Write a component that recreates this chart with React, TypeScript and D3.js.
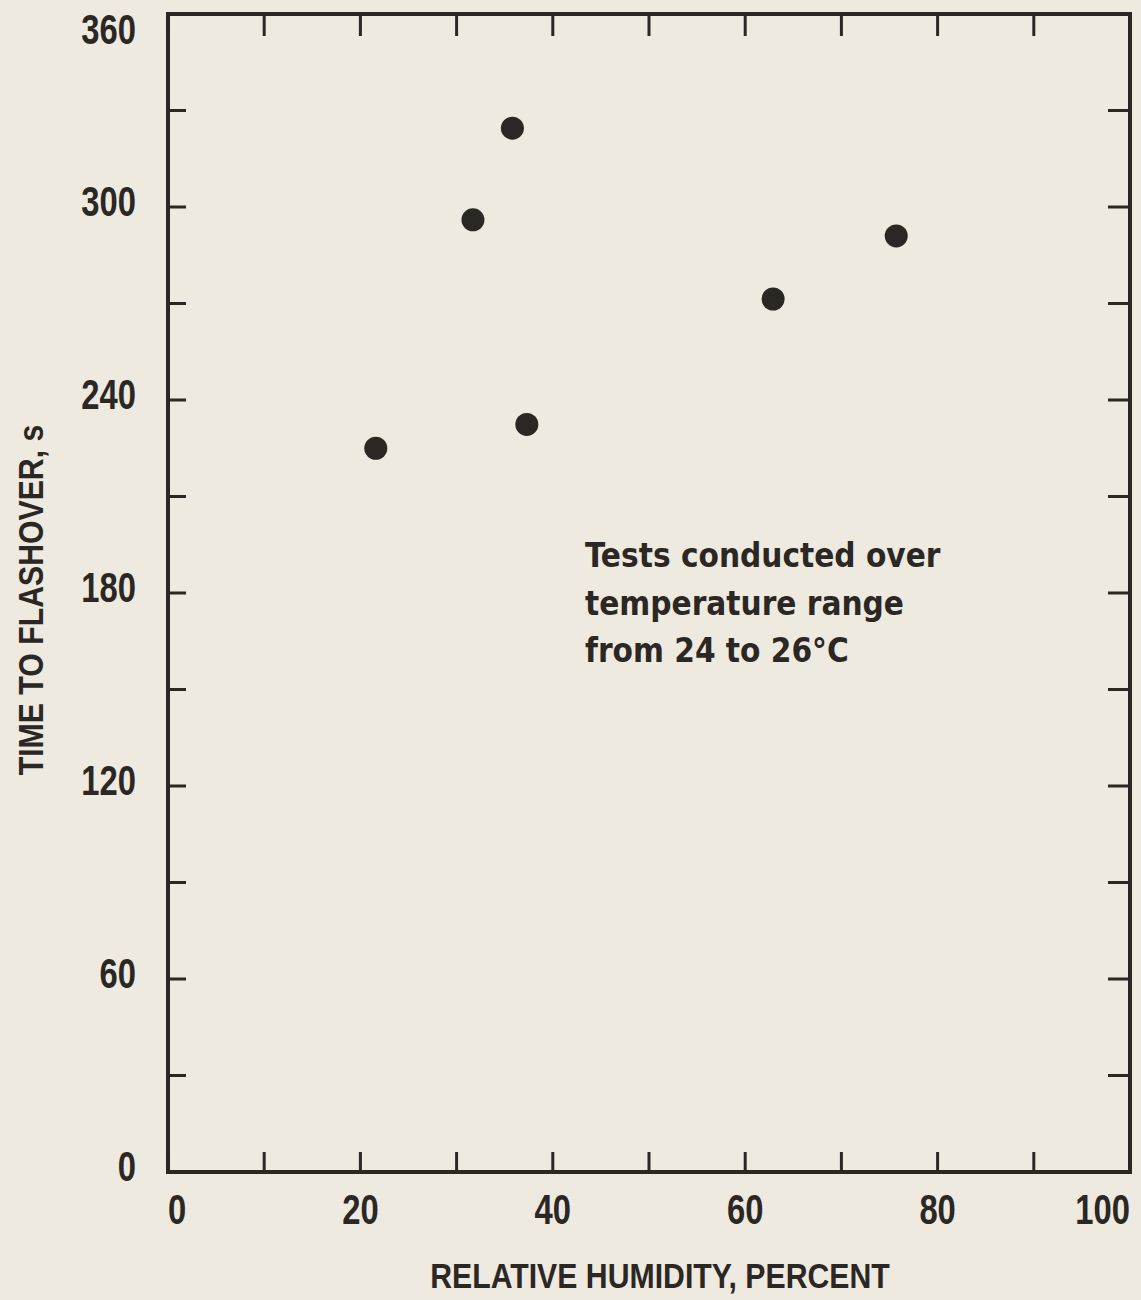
import React from "react";
import * as d3 from "d3";

const humidity = [21.6, 31.7, 35.8, 37.3, 62.9, 75.7];
const flashoverTime = [225, 296, 324.5, 232.4, 271.4, 291];
const xTickValues = [0, 10, 20, 30, 40, 50, 60, 70, 80, 90, 100];
const xLabelValues = [0, 20, 40, 60, 80, 100];
const yTickValues = [0, 30, 60, 90, 120, 150, 180, 210, 240, 270, 300, 330, 360];
const yLabelValues = [0, 60, 120, 180, 240, 300, 360];
const noteLines = ["Tests conducted over", "temperature range", "from 24 to 26°C"];
const xTitle = "RELATIVE HUMIDITY, PERCENT";
const yTitle = "TIME TO FLASHOVER, s";

const W = 1141;
const H = 1300;
const L = 168, R = 1130, T = 14, B = 1172;
const INK = "#2b2724";
const BG = "#eeeadf";
const SANS = "'Liberation Sans', Arial, sans-serif";
const COND = "'DejaVu Sans Condensed', 'DejaVu Sans', sans-serif";

export default function App() {
  const x = d3.scaleLinear().domain([0, 100]).range([L, R]);
  const y = d3.scaleLinear().domain([0, 360]).range([B, T]);
  const pts = humidity.map((h, i) => ({ h, t: flashoverTime[i] }));
  const sw = 4;
  return (
    <svg width={W} height={H} style={{ position: "absolute", left: 0, top: 0, display: "block" }}>
      <rect x={0} y={0} width={W} height={H} fill={BG} />
      <rect x={L} y={T} width={R - L} height={B - T} fill="none" stroke={INK} strokeWidth={sw} />
      {xTickValues.map((v) => (
        <g key={"xt" + v}>
          <line x1={x(v)} x2={x(v)} y1={B} y2={B - 20} stroke={INK} strokeWidth={3} />
          <line x1={x(v)} x2={x(v)} y1={T} y2={T + 22} stroke={INK} strokeWidth={3} />
        </g>
      ))}
      {yTickValues.map((v) => (
        <g key={"yt" + v}>
          <line x1={L} x2={L + 18} y1={y(v)} y2={y(v)} stroke={INK} strokeWidth={3} />
          <line x1={R} x2={R - 22} y1={y(v)} y2={y(v)} stroke={INK} strokeWidth={3} />
        </g>
      ))}
      {xLabelValues.map((v, i) => (
        <text
          key={"xl" + v}
          transform={`translate(${x(v)}, 1224) scale(0.78, 1)`}
          textAnchor={i === 0 ? "start" : i === xLabelValues.length - 1 ? "end" : "middle"}
          fontFamily={SANS}
          fontWeight="bold"
          fontSize={42}
          fill={INK}
        >
          {v}
        </text>
      ))}
      {yLabelValues.map((v) => (
        <text
          key={"yl" + v}
          transform={`translate(136, ${Math.max(y(v) + 9, 44)}) scale(0.78, 1)`}
          textAnchor="end"
          fontFamily={SANS}
          fontWeight="bold"
          fontSize={42}
          fill={INK}
        >
          {v}
        </text>
      ))}
      {pts.map((p, i) => (
        <circle key={"p" + i} cx={x(p.h)} cy={y(p.t)} r={11.5} fill={INK} />
      ))}
      {noteLines.map((s, i) => (
        <text
          key={"n" + i}
          x={585}
          y={567 + i * 47.5}
          fontFamily={COND}
          fontStretch="condensed"
          fontWeight="bold"
          fontSize={33}
          fill={INK}
        >
          {s}
        </text>
      ))}
      <text
        transform={`translate(660, 1288) scale(0.84, 1)`}
        textAnchor="middle"
        fontFamily={SANS}
        fontWeight="bold"
        fontSize={36}
        fill={INK}
      >
        {xTitle}
      </text>
      <text
        transform={`translate(43, 600) rotate(-90) scale(0.84, 1)`}
        textAnchor="middle"
        fontFamily={SANS}
        fontWeight="bold"
        fontSize={36}
        fill={INK}
      >
        {yTitle}
      </text>
    </svg>
  );
}
